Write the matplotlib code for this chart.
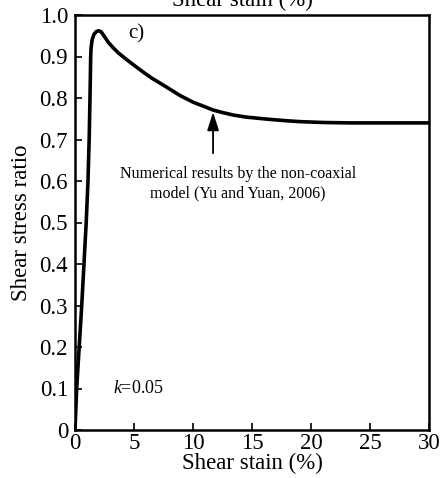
import matplotlib
matplotlib.use("Agg")
import matplotlib.pyplot as plt

# Non-coaxial model response, k = 0.05
strain = [0, 0.14, 0.57, 0.95, 1.1, 1.2, 1.27, 1.33, 1.36, 1.45, 1.6, 1.8,
          2.0, 2.2, 2.5, 2.8, 3.2, 3.7, 4.4, 5.0, 5.8, 6.5, 7.2, 8.0, 8.9,
          10.0, 11.0, 11.7, 12.5, 13.4, 14.5, 16.3, 18.0, 19.1, 21.0, 23.3, 30]
stress_ratio = [0, 0.1, 0.3, 0.5, 0.6, 0.7, 0.8, 0.9, 0.92, 0.94, 0.953, 0.960,
                0.962, 0.960, 0.948, 0.935, 0.922, 0.908, 0.892, 0.879, 0.862,
                0.848, 0.836, 0.822, 0.806, 0.790, 0.779, 0.771, 0.765, 0.759,
                0.754, 0.749, 0.745, 0.743, 0.741, 0.740, 0.740]

x_ticks = [0, 5, 10, 15, 20, 25, 30]
y_ticks = [0, 0.1, 0.2, 0.3, 0.4, 0.5, 0.6, 0.7, 0.8, 0.9, 1.0]
y_tick_labels = ["0", "0.1", "0.2", "0.3", "0.4", "0.5", "0.6", "0.7", "0.8", "0.9", "1.0"]

plt.rcParams["font.family"] = ["Liberation Serif", "DejaVu Serif"]
plt.rcParams["mathtext.fontset"] = "custom"
plt.rcParams["mathtext.rm"] = "Liberation Serif"
plt.rcParams["mathtext.it"] = "Liberation Serif:italic"

fig = plt.figure(figsize=(4.42, 4.78), dpi=100)
ax = fig.add_axes([75 / 442, 1 - 430 / 478, 354 / 442, 415 / 478])

ax.plot(strain, stress_ratio, color="black", lw=2.6,
        solid_joinstyle="round", solid_capstyle="round")

ax.set_xlim(0, 30)
ax.set_ylim(0, 1.0)
ax.set_xticks(x_ticks)
ax.set_yticks(y_ticks)
ax.set_yticklabels(y_tick_labels)
ax.tick_params(direction="in", length=5, width=1.2, labelsize=16.5)
ax.tick_params(axis="x", pad=2)
ax.tick_params(axis="y", pad=5)
for s in ax.spines.values():
    s.set_linewidth(1.8)

ax.set_xlabel("Shear stain (%)", fontsize=16.5, labelpad=-1)
ax.set_ylabel("Shear stress ratio", fontsize=16.5, labelpad=5)

ax.text(5.2, 0.955, "c)", fontsize=15, ha="center", va="center")
ax.text(3.2, 0.10, "$k$=0.05", fontsize=13, ha="left", va="center")

ax.annotate("", xy=(11.7, 0.766), xytext=(11.7, 0.667),
            arrowprops=dict(arrowstyle="-|>,head_length=1.0,head_width=0.32",
                            color="black", lw=1.3, mutation_scale=11,
                            shrinkA=0, shrinkB=0))
ax.text(13.8, 0.593, "Numerical results by the non-coaxial\nmodel (Yu and Yuan, 2006)",
        fontsize=11.5, ha="center", va="center", linespacing=1.3)

# label of the panel above, cut by the figure edge
fig.text(0.548, 1 - 6 / 478, "Shear stain (%)", fontsize=16.5,
         ha="center", va="baseline")

fig.savefig("out.png", dpi=100)
